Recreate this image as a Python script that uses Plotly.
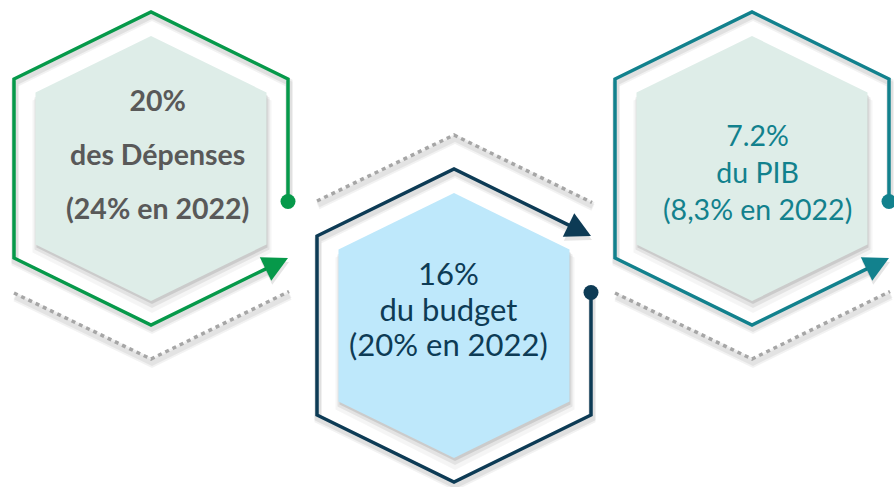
import math
import plotly.graph_objects as go

# ---- content ----
pct = ["20%", "16%", "7.2%"]
desc = ["des Dépenses", "du budget", "du PIB"]
ref2022 = ["(24% en 2022)", "(20% en 2022)", "(8,3% en 2022)"]

# ---- layout / style (pixel space) ----
W, H = 894, 487
CX = [151, 454, 752]
CY = [168.5, 325.5, 168.5]
FLIP = [1, -1, 1]                     # 1: arrow at the bottom, -1: arrow at the top
LINE_COL = ["#06994a", "#0d3b55", "#12818d"]
FILL_COL = ["#deede8", "#bee8fb", "#deede8"]
TEXT_COL = ["#595959", "#0d3b55", "#12818d"]
BOLD = [True, False, False]
FSIZE = [28.5, 31, 28.5]
LINE_GAP = [54, 35.5, 37]              # baseline-to-baseline distance
TEXT_DX = [6, -6, 5]
TEXT_DY = [-15, -17, 3]               # centre of the middle line
OUT = dict(w=137, h=156.5, v=89.5)
INN = dict(w=115.5, h=132.5, v=76)
DOT_OFF = 33
DOTTED = [(-137, 124.5), (0, 190.5), (138, 123)]
LW = 3.5

fig = go.Figure()


def hexagon(cx, cy, w, h, v):
    offs = [(0, -h), (w, -v), (w, v), (0, h), (-w, v), (-w, -v), (0, -h)]
    return [cx + a for a, b in offs], [cy + b for a, b in offs]


def add_poly(xs, ys, color, line=None):
    fig.add_trace(go.Scatter(x=xs, y=ys, mode="lines", fill="toself",
                             fillcolor=color, line=line or dict(width=0, color=color),
                             hoverinfo="skip", showlegend=False))


for i in range(3):
    cx, cy, s = CX[i], CY[i], FLIP[i]

    # dotted grey guide
    dx = [cx + a for a, b in DOTTED]
    dy = [cy + s * b for a, b in DOTTED]
    for k, op in ((5, 0.05), (3, 0.06)):
        fig.add_trace(go.Scatter(x=[x + 1 for x in dx], y=[y + k for y in dy], mode="lines",
                                 line=dict(color=f"rgba(0,0,0,{op})", width=7),
                                 hoverinfo="skip", showlegend=False))
    fig.add_trace(go.Scatter(x=dx, y=dy, mode="lines",
                             line=dict(color="#a6a6a6", width=3.5, dash="4px,4px"),
                             hoverinfo="skip", showlegend=False))

    # inner hexagon shadow + fill
    for k, grow, op in ((8, 4, 0.04), (5, 2, 0.07), (3, 0, 0.10)):
        xs, ys = hexagon(cx + 1, cy + k, INN["w"] + grow, INN["h"] + grow, INN["v"])
        add_poly(xs, ys, f"rgba(0,0,0,{op})")
    xs, ys = hexagon(cx, cy, **INN)
    add_poly(xs, ys, FILL_COL[i])

    # outline path
    w, h, v = OUT["w"], OUT["h"], OUT["v"]
    offs = [(w, DOT_OFF), (w, -v), (0, -h), (-w, -v), (-w, v), (0, h)]
    px = [cx + a for a, b in offs]
    py = [cy + s * b for a, b in offs]
    tip = (cx + w, cy + s * v)
    ux, uy = tip[0] - px[-1], tip[1] - py[-1]
    n = math.hypot(ux, uy)
    ux, uy = ux / n, uy / n
    L, HW = 25, 13
    bx, by = tip[0] - L * ux, tip[1] - L * uy
    px.append(bx + 2 * ux)
    py.append(by + 2 * uy)

    for k, op in ((5, 0.05), (3, 0.07)):
        fig.add_trace(go.Scatter(x=[x + 1 for x in px], y=[y + k for y in py], mode="lines",
                                 line=dict(color=f"rgba(0,0,0,{op})", width=7),
                                 hoverinfo="skip", showlegend=False))
    fig.add_trace(go.Scatter(x=px, y=py, mode="lines",
                             line=dict(color=LINE_COL[i], width=LW),
                             hoverinfo="skip", showlegend=False))
    # arrow head
    nx, ny = -uy, ux
    tx = [tip[0], bx + HW * nx, bx - HW * nx, tip[0]]
    ty = [tip[1], by + HW * ny, by - HW * ny, tip[1]]
    add_poly([x + 1 for x in tx], [y + 4 for y in ty], "rgba(0,0,0,0.10)")
    add_poly(tx, ty, LINE_COL[i])
    # dot
    fig.add_trace(go.Scatter(x=[px[0]], y=[py[0]], mode="markers",
                             marker=dict(size=15, color=LINE_COL[i]),
                             hoverinfo="skip", showlegend=False))

    # text (one block; base size sets the line spacing, span sets glyph size)
    lines = [pct[i], desc[i], ref2022[i]]
    if BOLD[i]:
        lines = [f"<b>{t}</b>" for t in lines]
    txt = "<br>".join(f'<span style="font-size:{FSIZE[i]}px">{t}</span>' for t in lines)
    fig.add_annotation(x=cx + TEXT_DX[i], y=cy + TEXT_DY[i], text=txt, showarrow=False,
                       xanchor="center", yanchor="middle", align="center",
                       font=dict(family="Lato, Open Sans, sans-serif",
                                 size=LINE_GAP[i] / 1.3, color=TEXT_COL[i]))

fig.update_layout(width=W, height=H, margin=dict(l=0, r=0, t=0, b=0),
                  paper_bgcolor="white", plot_bgcolor="white", showlegend=False)
fig.update_xaxes(range=[0, W], visible=False, fixedrange=True)
fig.update_yaxes(range=[H, 0], visible=False, fixedrange=True)
fig.write_html("out.html", config={"displayModeBar": False},
               post_script="document.body.style.margin='0';"
                           "document.body.style.overflow='hidden';")
